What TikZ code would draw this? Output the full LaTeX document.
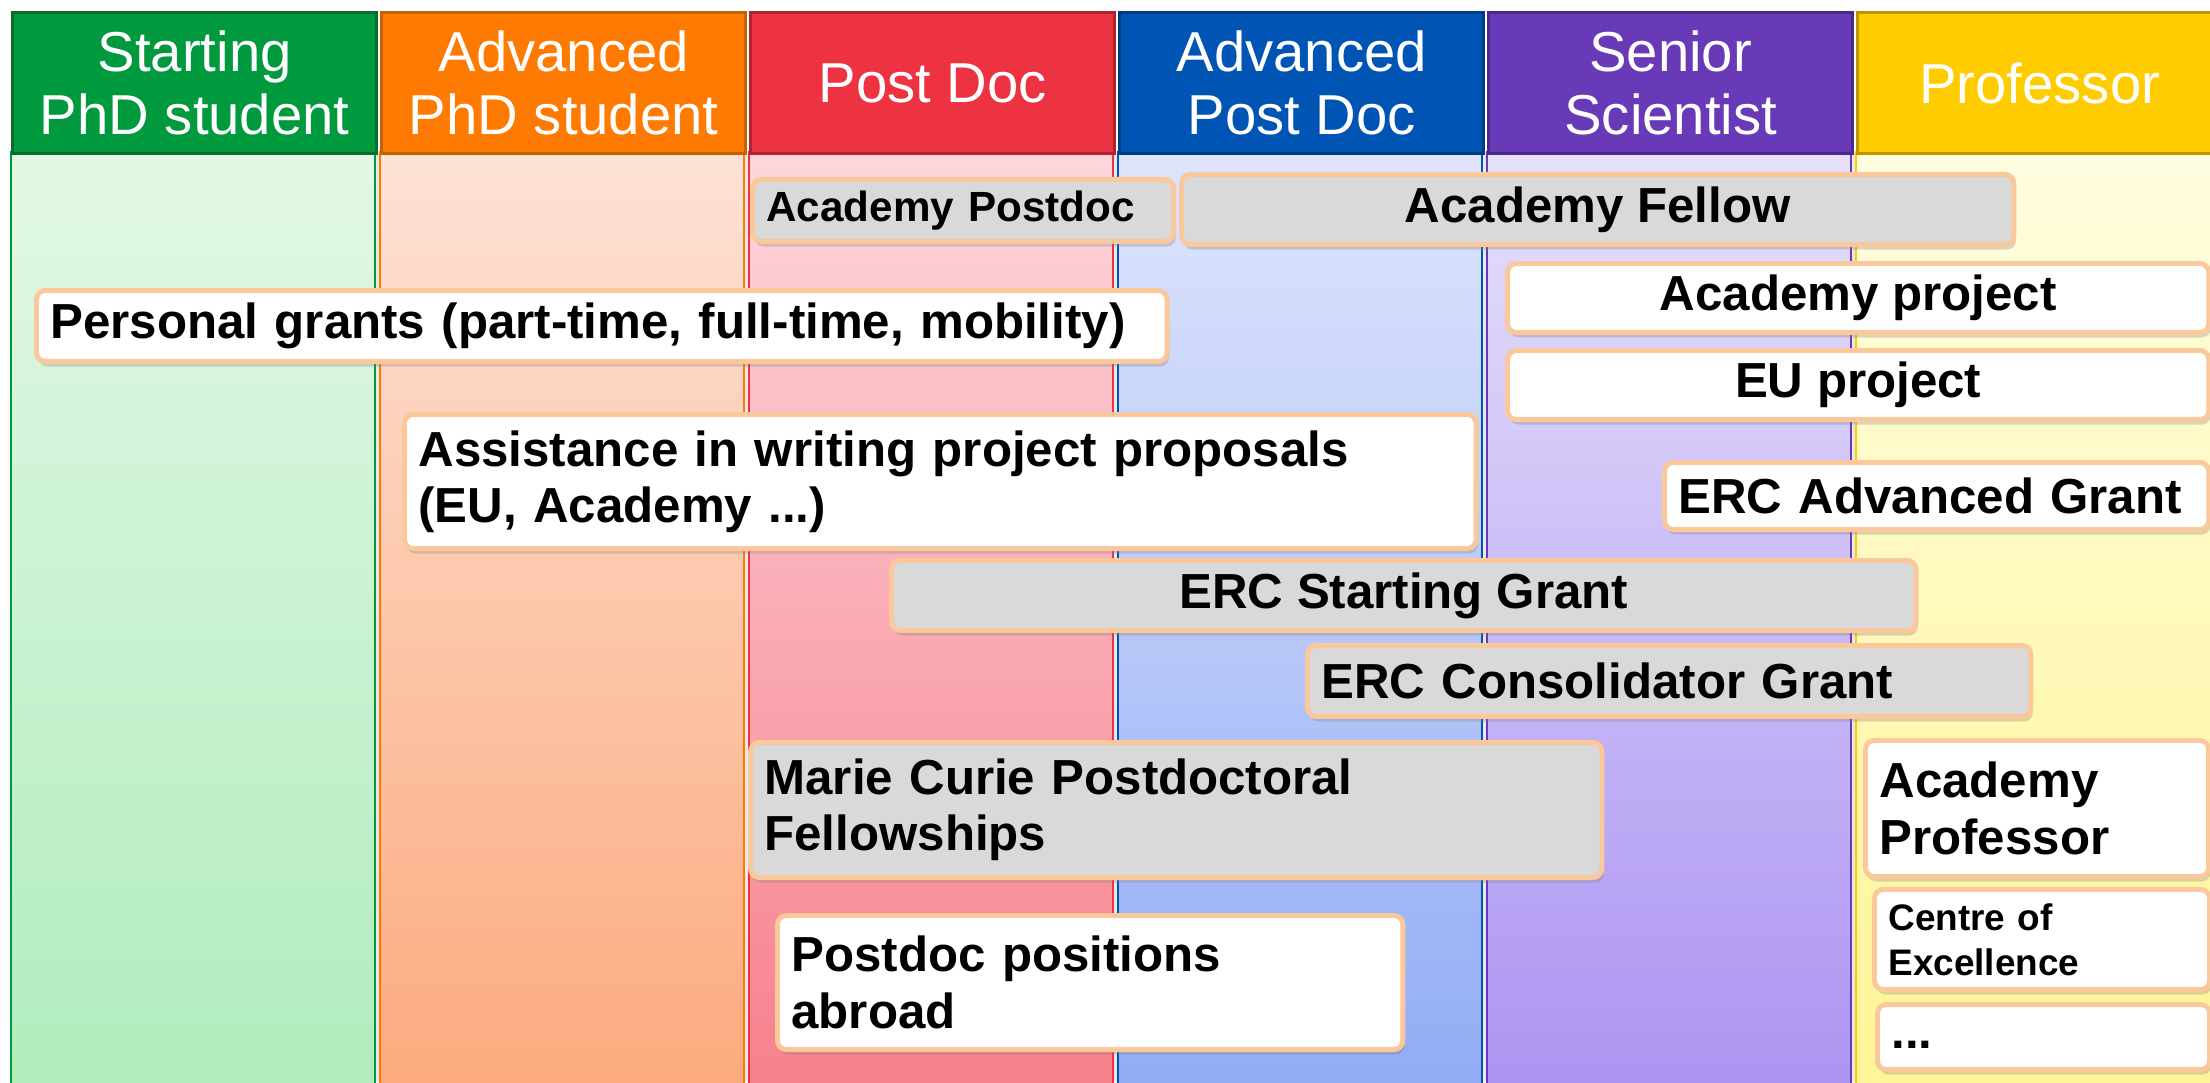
\documentclass[tikz,border=0pt]{standalone}
\usepackage{fontspec}
\setmainfont{Liberation Sans}
\usepackage{tikz}
\usetikzlibrary{shadows}

\definecolor{greenhead}{RGB}{0,153,62}
\definecolor{greenedge}{RGB}{8,110,45}
\definecolor{greentop}{RGB}{226,248,229}
\definecolor{greenbot}{RGB}{176,236,188}
\definecolor{orangehead}{RGB}{255,122,0}
\definecolor{orangeedge}{RGB}{196,98,10}
\definecolor{orangetop}{RGB}{253,226,214}
\definecolor{orangebot}{RGB}{252,170,126}
\definecolor{redhead}{RGB}{237,50,66}
\definecolor{rededge}{RGB}{176,36,48}
\definecolor{redtop}{RGB}{253,214,220}
\definecolor{redbot}{RGB}{247,128,140}
\definecolor{bluehead}{RGB}{0,84,180}
\definecolor{blueedge}{RGB}{0,60,130}
\definecolor{bluetop}{RGB}{222,229,252}
\definecolor{bluebot}{RGB}{146,172,245}
\definecolor{purplehead}{RGB}{104,58,184}
\definecolor{purpleedge}{RGB}{75,40,140}
\definecolor{purpletop}{RGB}{230,224,250}
\definecolor{purplebot}{RGB}{172,148,242}
\definecolor{yellowhead}{RGB}{255,204,0}
\definecolor{yellowedge}{RGB}{190,150,0}
\definecolor{yellowtop}{RGB}{255,253,224}
\definecolor{yellowbot}{RGB}{255,244,150}
\definecolor{peach}{RGB}{250,200,155}
\definecolor{boxgray}{RGB}{217,217,217}

\tikzset{
    head/.style={anchor=north west, minimum width=3.64cm, minimum height=1.41cm,
        inner sep=0pt, text=white, align=center, line width=0.9pt,
        font=\fontsize{16}{18}\selectfont},
    grant/.style={anchor=north west, draw=peach, line width=1.4pt,
        rounded corners=0.09cm, fill=white, inner xsep=0.14cm, inner ysep=0pt,
        font=\bfseries\fontsize{14}{16}\selectfont,
        drop shadow={shadow xshift=0.02cm, shadow yshift=-0.05cm, opacity=0.3}},
    grantgray/.style={grant, fill=boxgray}
}

\begin{document}
\begin{tikzpicture}[x=0.01cm, y=-0.01cm]
    \useasboundingbox (0,0) rectangle (2210,1082);

    \fill [gray!18] (11,152) rectangle (2210,1082);          % gaps between columns

    \draw [draw=greenhead, top color=greentop, bottom color=greenbot]
        (11,152) rectangle (375,1090);                       % column bodies
    \draw [draw=orangehead, top color=orangetop, bottom color=orangebot]
        (380,152) rectangle (744,1090);
    \draw [draw=redhead, top color=redtop, bottom color=redbot]
        (749,152) rectangle (1113,1090);
    \draw [draw=bluehead, top color=bluetop, bottom color=bluebot]
        (1118,152) rectangle (1482,1090);
    \draw [draw=purplehead, top color=purpletop, bottom color=purplebot]
        (1487,152) rectangle (1851,1090);
    \draw [draw=yellowhead, top color=yellowtop, bottom color=yellowbot]
        (1856,152) rectangle (2220,1090);

    \node [head, fill=greenhead, draw=greenedge] (hstart) at (11,11)
        {Starting\\PhD student};                             % column titles
    \node [head, fill=orangehead, draw=orangeedge] (hadvphd) at (380,11)
        {Advanced\\PhD student};
    \node [head, fill=redhead, draw=rededge] (hpostdoc) at (749,11)
        {Post Doc};
    \node [head, fill=bluehead, draw=blueedge] (hadvpost) at (1118,11)
        {Advanced\\Post Doc};
    \node [head, fill=purplehead, draw=purpleedge] (hsenior) at (1487,11)
        {Senior\\Scientist};
    \node [head, fill=yellowhead, draw=yellowedge] (hprof) at (1856,11)
        {Professor};

    \node [grantgray, text width=3.93cm, minimum height=0.62cm, align=left,
        font=\bfseries\fontsize{12}{14}\selectfont] (acpostdoc) at (750,177)
        {Academy Postdoc};                                   % funding boxes
    \node [grantgray, minimum width=8.32cm, minimum height=0.70cm] (acfellow)
        at (1179,172) {Academy Fellow};
    \node [grant, minimum width=7.01cm, minimum height=0.69cm] (acproject)
        at (1505,261) {Academy project};
    \node [grant, text width=11.02cm, minimum height=0.71cm, align=left] (personal)
        at (34,288) {Personal grants (part-time, full-time, mobility)};
    \node [grant, minimum width=7.01cm, minimum height=0.69cm] (euproject)
        at (1505,348) {EU project};
    \node [grant, text width=10.43cm, minimum height=1.34cm, align=left] (assist)
        at (402,412) {Assistance in writing project proposals\\(EU, Academy ...)};
    \node [grant, text width=5.16cm, minimum height=0.67cm, align=left] (ercadv)
        at (1662,460) {ERC Advanced Grant};
    \node [grantgray, minimum width=10.24cm, minimum height=0.70cm] (ercstart)
        at (889,558) {ERC Starting Grant};
    \node [grantgray, text width=6.95cm, minimum height=0.71cm, align=left] (ercconsol)
        at (1305,643) {ERC Consolidator Grant};
    \node [grantgray, text width=8.23cm, minimum height=1.35cm, align=left] (curie)
        at (748,740) {Marie Curie Postdoctoral\\Fellowships};
    \node [grant, text width=3.15cm, minimum height=1.36cm, align=left] (acprof)
        at (1863,738) {Academy\\Professor};
    \node [grant, text width=5.97cm, minimum height=1.34cm, align=left] (abroad)
        at (775,913) {Postdoc positions\\abroad};
    \node [grant, text width=3.07cm, minimum height=1.00cm, align=left,
        font=\bfseries\fontsize{10.5}{12.8}\selectfont] (excel) at (1872,887)
        {Centre of\\Excellence};
    \node [grant, text width=3.04cm, minimum height=0.65cm, align=left] (more)
        at (1875,1002) {\strut...};
\end{tikzpicture}
\end{document}
